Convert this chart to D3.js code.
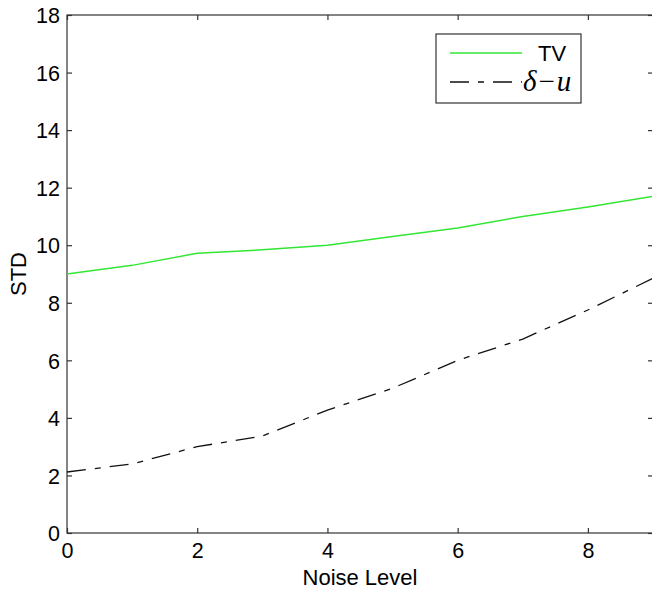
<!DOCTYPE html>
<html><head><meta charset="utf-8">
<script src="https://cdn.jsdelivr.net/npm/d3@7"></script>
<style>html,body{margin:0;padding:0;background:#fff;overflow:hidden}svg{display:block}</style>
</head><body>
<svg id="c" width="652" height="590"></svg>
<script>
const noiseLevels = [0,1,2,3,4,5,6,7,8,9];
const tvSTD =     [9.0, 9.3, 9.72, 9.84, 10.0, 10.3, 10.6, 11.0, 11.33, 11.7];
const deltaUSTD = [2.12, 2.4, 3.0, 3.37, 4.27, 5.03, 6.0, 6.74, 7.75, 8.85];
const xTicks = [0,2,4,6,8];
const yTicks = [0,2,4,6,8,10,12,14,16,18];

const svg = d3.select("#c");
const L=67, R=653, T=15, B=533;
const x = d3.scaleLinear().domain([0,9]).range([L,R]);
const y = d3.scaleLinear().domain([0,18]).range([B,T]);
const axCol = "#333";
const font = "Liberation Sans, Arial, sans-serif";

// frame
svg.append("rect").attr("x",L).attr("y",T).attr("width",R-L).attr("height",B-T)
  .attr("fill","none").attr("stroke",axCol).attr("stroke-width",1.2);

// axes with inward ticks
const gx = svg.append("g").attr("transform",`translate(0,${B})`)
  .call(d3.axisBottom(x).tickValues(xTicks).tickSize(-5).tickPadding(10).tickFormat(d3.format("d")));
const gxt = svg.append("g").attr("transform",`translate(0,${T})`)
  .call(d3.axisTop(x).tickValues(xTicks).tickSize(-5).tickFormat(""));
const gy = svg.append("g").attr("transform",`translate(${L},0)`)
  .call(d3.axisLeft(y).tickValues(yTicks).tickSize(-5).tickPadding(7).tickFormat(d3.format("d")));
const gyr = svg.append("g").attr("transform",`translate(${R},0)`)
  .call(d3.axisRight(y).tickValues(yTicks).tickSize(-5).tickFormat(""));
[gx,gxt,gy,gyr].forEach(g=>{
  g.select(".domain").remove();
  g.selectAll(".tick line").attr("stroke",axCol).attr("stroke-width",1.2);
  g.selectAll(".tick text").attr("fill","#000").style("font-family",font).style("font-size","21.5px");
});
gx.selectAll(".tick text").attr("dy","0.68em");
gy.selectAll(".tick text").attr("dy","0.36em");

// lines
const line = (vals)=>d3.line().x((d,i)=>x(noiseLevels[i])).y(d=>y(d))(vals);
svg.append("path").attr("d",line(tvSTD)).attr("fill","none")
  .attr("stroke","#33e633").attr("stroke-width",1.5);
svg.append("path").attr("d",line(deltaUSTD)).attr("fill","none")
  .attr("stroke","#111").attr("stroke-width",1.3).attr("stroke-dasharray","19,9,6,9");

// axis labels
svg.append("text").attr("x",(L+R)/2).attr("y",585).attr("text-anchor","middle")
  .style("font-family",font).style("font-size","22px").text("Noise Level");
svg.append("text").attr("transform",`translate(26,${(T+B)/2}) rotate(-90)`).attr("text-anchor","middle")
  .style("font-family",font).style("font-size","22px").text("STD");

// legend
const lg = svg.append("g");
lg.append("rect").attr("x",436).attr("y",34).attr("width",145).attr("height",69)
  .attr("fill","#fff").attr("stroke",axCol).attr("stroke-width",1.2);
lg.append("line").attr("x1",450).attr("x2",522).attr("y1",53).attr("y2",53)
  .attr("stroke","#33e633").attr("stroke-width",1.5);
lg.append("text").attr("x",538).attr("y",61).style("font-family",font).style("font-size","22px").text("TV");
lg.append("line").attr("x1",450).attr("x2",522).attr("y1",82).attr("y2",82)
  .attr("stroke","#111").attr("stroke-width",1.3).attr("stroke-dasharray","19,9,6,9");
const t2 = lg.append("text").attr("x",523).attr("y",91).style("font-family","Liberation Serif, Times New Roman, serif").style("font-size","29px");
t2.append("tspan").style("font-style","italic").text("δ");
t2.append("tspan").attr("dx",2).text("−");
t2.append("tspan").attr("dx",2).style("font-style","italic").text("u");
</script>
</body></html>
